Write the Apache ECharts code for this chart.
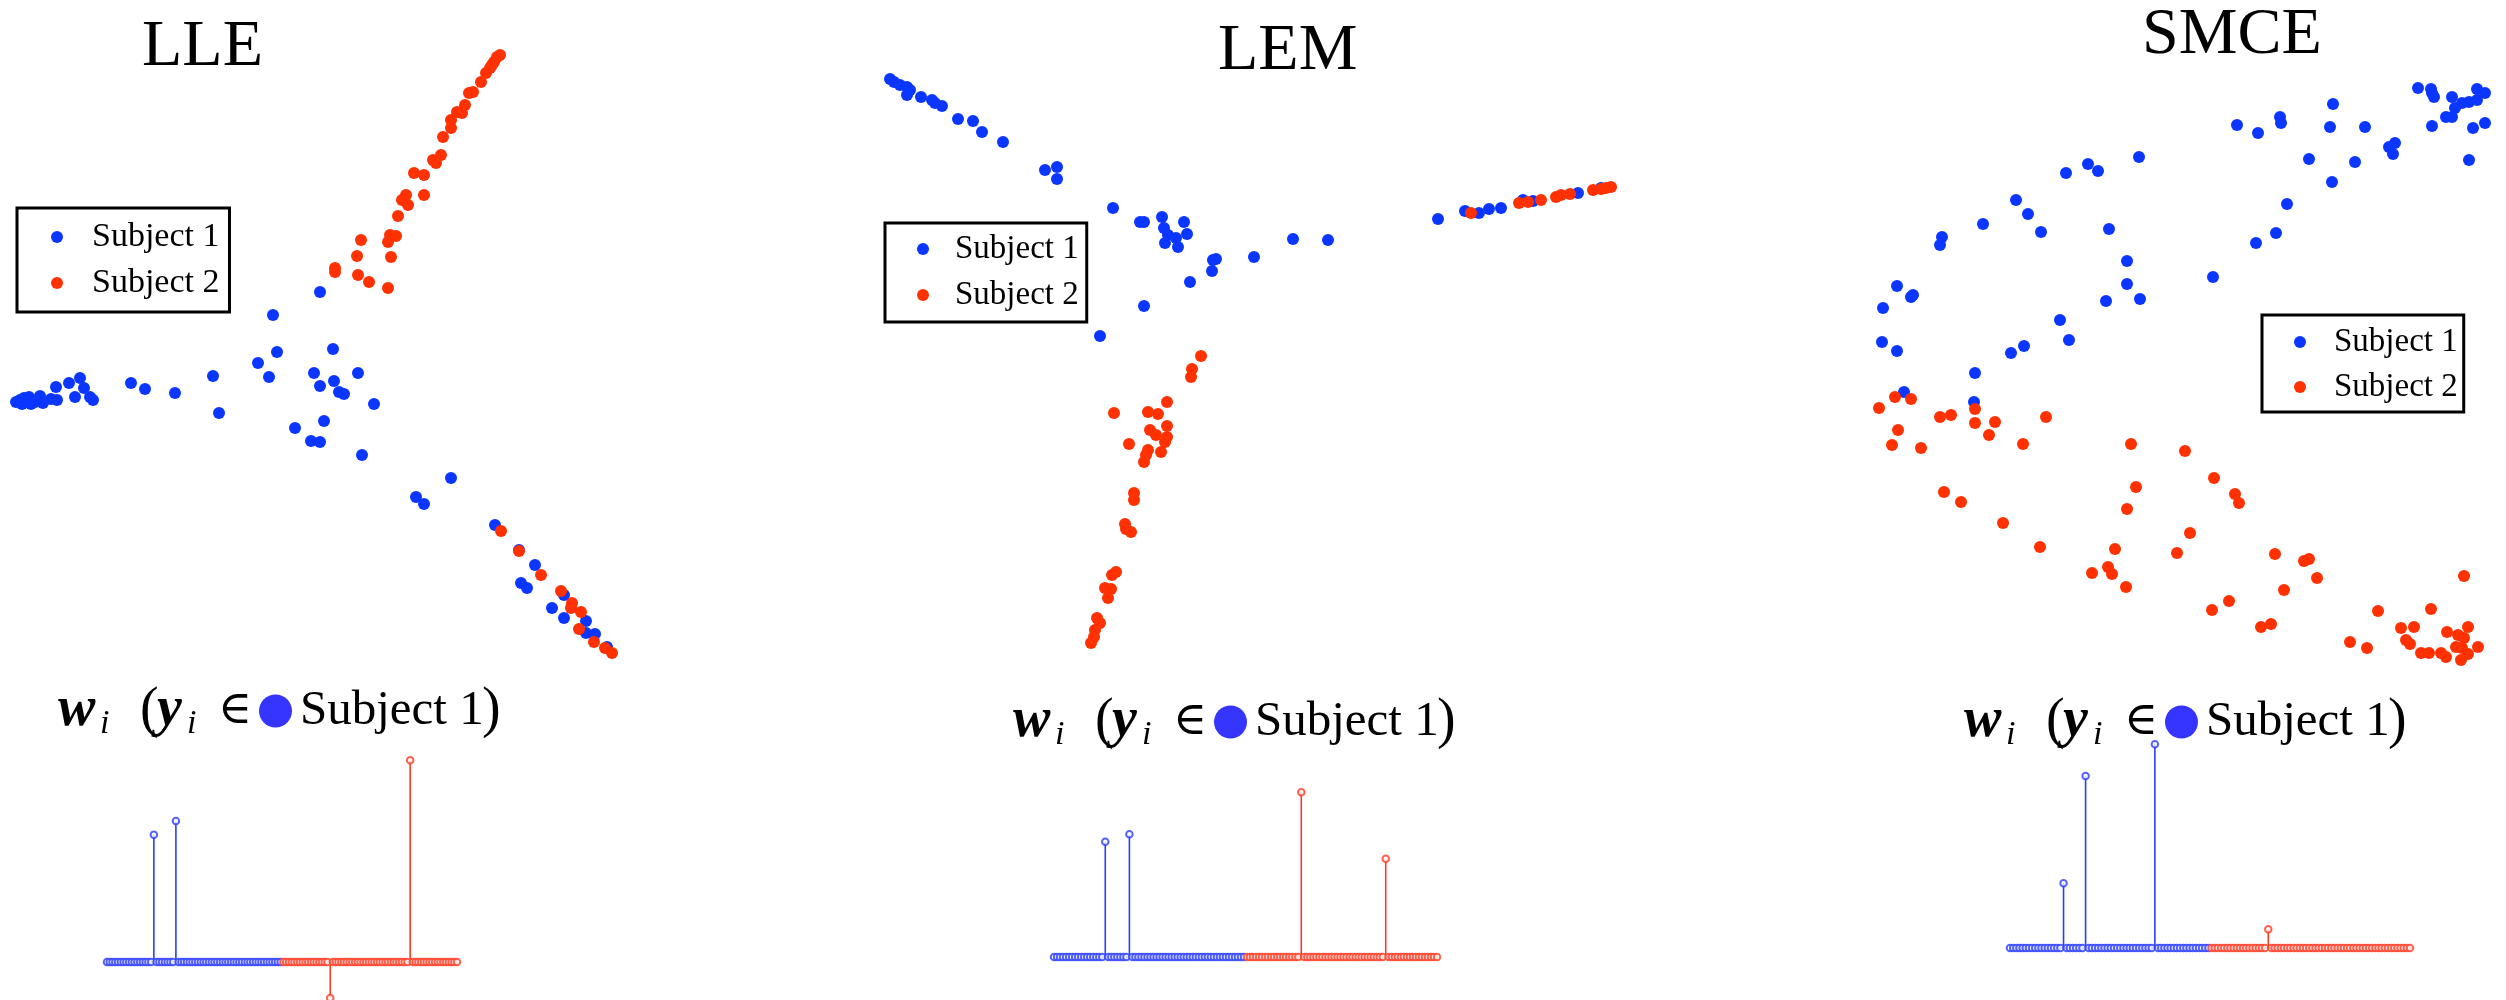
<!DOCTYPE html>
<html>
<head>
<meta charset="utf-8">
<script src="https://cdn.jsdelivr.net/npm/echarts@6/dist/echarts.min.js"></script>
<style>
  html, body { margin: 0; padding: 0; background: #fff; }
  #chart { width: 2506px; height: 1000px; }
</style>
</head>
<body>
<div id="chart"></div>
<script>
// ---- 2-D embeddings of the two subjects (x, y in embedding units, y grows downward) ----
const lleSubject1 = [
  [16,402],[20,400],[22,404],[24,398],[27,401],[29,397],[31,404],[35,402],[40,396],[43,403],[51,399],[57,400],
  [56,387],[69,383],[80,378],[75,397],[84,388],[90,397],[93,400],
  [131,383],[145,389],[175,393],[213,376],[219,413],[258,363],[277,352],[269,377],[273,315],[320,292],
  [333,349],[314,373],[334,381],[320,386],[339,392],[344,394],[358,373],[374,404],[324,421],[295,428],
  [311,441],[320,442],[362,455],
  [451,478],[416,497],[424,504],[495,525],[519,550],[535,565],[521,583],[527,588],[564,595],[552,608],
  [564,618],[586,621],[586,633],[595,634],[607,647]
];
const lleSubject2 = [
  [500,55],[497,57],[494,62],[492,65],[490,68],[486,73],[481,82],[473,92],[469,93],[465,105],[457,112],
  [462,113],[451,120],[451,128],[443,137],[441,155],[433,160],[436,163],[414,173],[424,175],[406,195],
  [402,200],[424,195],[408,205],[398,216],[390,235],[396,236],[388,242],[361,240],[357,256],[391,257],
  [335,268],[335,272],[358,275],[369,282],[388,288],
  [501,531],[519,551],[541,575],[561,591],[572,603],[571,608],[581,612],[579,629],[594,642],[605,648],[612,653]
];

const lemSubject1 = [
  [890,79],[894,82],[900,85],[907,87],[910,90],[907,95],[921,97],[932,100],[935,103],[942,106],[958,119],
  [973,121],[982,132],[1003,142],[1045,170],[1057,167],[1057,179],[1113,208],[1140,222],[1144,222],
  [1162,217],[1164,228],[1168,235],[1165,243],[1176,238],[1178,247],[1184,222],[1187,234],[1213,260],
  [1216,259],[1212,271],[1190,282],[1144,306],[1100,336],[1254,257],[1293,239],[1328,240],[1438,219],
  [1465,211],[1479,213],[1489,209],[1501,208],[1523,200],[1533,201],[1578,193],[1601,188]
];
const lemSubject2 = [
  [1471,213],[1519,203],[1528,202],[1541,200],[1556,197],[1561,195],[1570,194],[1593,190],[1601,189],
  [1606,188],[1611,187],
  [1201,356],[1192,369],[1191,377],[1167,402],[1114,413],[1148,412],[1158,414],[1167,426],[1150,430],
  [1156,435],[1167,437],[1165,442],[1129,444],[1148,450],[1146,455],[1161,452],[1144,462],[1134,493],
  [1134,500],[1125,524],[1126,529],[1131,532],[1116,572],[1112,575],[1105,588],[1111,589],[1108,598],
  [1097,618],[1100,623],[1095,630],[1094,637],[1091,643]
];

const smceSubject1 = [
  [2418,88],[2431,89],[2432,93],[2434,97],[2452,97],[2462,103],[2469,102],[2477,100],[2477,89],[2485,93],
  [2455,108],[2446,117],[2452,117],[2432,126],[2473,128],[2485,123],[2469,160],[2333,104],[2330,127],
  [2365,127],[2280,117],[2281,123],[2237,125],[2258,133],[2309,159],[2355,162],[2332,182],[2389,147],
  [2395,143],[2393,154],[2287,204],[2276,233],[2256,243],[2213,277],[2139,157],[2088,164],[2098,171],
  [2066,173],[2109,229],[2016,200],[2028,214],[2041,232],[1983,224],[1942,237],[1940,245],[1897,286],
  [1913,295],[1911,297],[1883,308],[1882,342],[1897,351],[2127,261],[2127,284],[2140,299],[2106,301],
  [2060,320],[2069,340],[2024,346],[2011,353],[1975,373],[1904,392],[1974,402]
];
const smceSubject2 = [
  [1895,397],[1911,399],[1879,408],[1940,417],[1951,415],[1975,409],[1975,423],[1995,422],[1989,435],
  [1898,430],[1892,445],[1921,448],[2023,444],[2046,417],[2131,444],[2185,451],[2214,478],[2235,494],
  [2239,503],[2136,487],[2127,509],[1944,492],[1961,502],[2003,523],[2040,547],[2190,533],[2177,553],
  [2115,549],[2108,567],[2112,574],[2092,573],[2126,587],[2275,554],[2304,561],[2309,559],[2317,578],
  [2284,590],[2229,601],[2212,610],[2261,627],[2271,624],[2378,611],[2431,609],[2464,576],[2350,642],
  [2367,648],[2401,628],[2414,627],[2406,640],[2410,644],[2421,653],[2429,653],[2441,653],[2446,657],
  [2447,632],[2458,635],[2468,627],[2464,638],[2456,647],[2462,648],[2478,647],[2468,654],[2461,660]
];

// ---- sparse representation weights w_i of one point of Subject 1 ----
const pointsPerSubject = 64;
const lleWeightIndex  = [18, 26, 82, 111];
const lleWeightValue  = [0.293, 0.325, -0.083, 0.465];
const lemWeightIndex  = [18, 26, 83, 111];
const lemWeightValue  = [0.230, 0.245, 0.329, 0.196];
const smceWeightIndex = [18, 25, 47, 83];
const smceWeightValue = [0.141, 0.374, 0.443, 0.041];

const methodNames = ['LLE', 'LEM', 'SMCE'];
const subjectNames = ['Subject 1', 'Subject 2'];

// ---- styling / layout ----
const SERIF = '"Liberation Serif", "Times New Roman", "DejaVu Serif", serif';
const BLUE = '#0b36ff', RED = '#ff3100';
const STEM_BLUE = '#2a3cff', STEM_RED = '#ff3a22';

const scatterLayout = [
  { left: 0,    width: 640, titleLeft: 142,  titleTop: 15,
    legend: { left: 17,   top: 208, padding: [11, 10, 11, 34], itemGap: 10, textPad: 24, fontSize: 34 } },
  { left: 860,  width: 780, titleLeft: 1218, titleTop: 19,
    legend: { left: 885,  top: 223, padding: [8, 8, 9, 32], itemGap: 10, textPad: 21, fontSize: 33 } },
  { left: 1850, width: 656, titleLeft: 2142, titleTop: 3,
    legend: { left: 2262, top: 315, padding: [9, 6, 7, 32], itemGap: 9, textPad: 23, fontSize: 33 } }
];
const SCATTER_HEIGHT = 680;

const stemLayout = [
  { left: 107,  width: 350, top: 740, bottom: 1000, baseline: 962, unit: 434, subLeft: 58,   subTop: 681 },
  { left: 1054, width: 383, top: 760, bottom: 1000, baseline: 957, unit: 501, subLeft: 1013, subTop: 692 },
  { left: 2010, width: 400, top: 720, bottom: 1000, baseline: 948, unit: 460, subLeft: 1964, subTop: 692 }
];

const embeddings = [
  [lleSubject1, lleSubject2],
  [lemSubject1, lemSubject2],
  [smceSubject1, smceSubject2]
];
const weights = [
  [lleWeightIndex, lleWeightValue],
  [lemWeightIndex, lemWeightValue],
  [smceWeightIndex, smceWeightValue]
];

function weightVector(idx, val) {
  const w = new Array(2 * pointsPerSubject).fill(0);
  idx.forEach((k, j) => { w[k - 1] = val[j]; });
  return w;
}

const plain = { fontFamily: SERIF, fontWeight: 'normal', fontStyle: 'normal', color: '#000' };
const subtitleRich = {
  w:   { ...plain, fontSize: 56, fontStyle: 'italic', fontWeight: 'bold', width: 42, lineHeight: 60 },
  y:   { ...plain, fontSize: 56, fontStyle: 'italic', fontWeight: 'bold', width: 30, lineHeight: 60 },
  i1:  { ...plain, fontSize: 34, fontStyle: 'italic', width: 40, lineHeight: 34, verticalAlign: 'bottom' },
  i2:  { ...plain, fontSize: 34, fontStyle: 'italic', width: 31, lineHeight: 34, verticalAlign: 'bottom' },
  op:  { ...plain, fontSize: 56, width: 17, lineHeight: 60 },
  el:  { ...plain, fontSize: 46, width: 41, lineHeight: 60 },
  dot: { width: 33, height: 33, borderRadius: 17, backgroundColor: '#3535ff', verticalAlign: 'middle' },
  sp:  { width: 8 },
  txt: { ...plain, fontSize: 49, width: 182, lineHeight: 60 },
  cp:  { ...plain, fontSize: 56, lineHeight: 60 }
};
const subtitleText = '{w|w}{i1|i}{op|(}{y|y}{i2|i}{el|∈}{dot|}{sp|}{txt|Subject 1}{cp|)}';

const grid = [], xAxis = [], yAxis = [], series = [], title = [], legend = [];

// scatter panels: one embedding per method
scatterLayout.forEach((L, p) => {
  grid.push({ left: L.left, top: 0, width: L.width, height: SCATTER_HEIGHT });
  xAxis.push({ type: 'value', gridIndex: p, min: L.left, max: L.left + L.width, show: false });
  yAxis.push({ type: 'value', gridIndex: p, min: 0, max: SCATTER_HEIGHT, inverse: true, show: false });
  title.push({
    text: methodNames[p], left: L.titleLeft, top: L.titleTop, padding: 0,
    textStyle: { fontFamily: SERIF, fontSize: 66, fontWeight: 'normal', lineHeight: 66, color: '#000' }
  });
  legend.push({
    data: subjectNames, orient: 'vertical',
    left: L.legend.left, top: L.legend.top, padding: L.legend.padding, itemGap: L.legend.itemGap,
    itemWidth: 12, itemHeight: 12, icon: 'circle', selectedMode: false,
    borderColor: '#000', borderWidth: 3, backgroundColor: '#fff',
    textStyle: { fontFamily: SERIF, fontSize: L.legend.fontSize, lineHeight: 36, color: '#000',
                 padding: [0, 0, 0, L.legend.textPad] }
  });
  embeddings[p].forEach((pts, s) => {
    series.push({
      type: 'scatter', name: subjectNames[s], xAxisIndex: p, yAxisIndex: p,
      data: pts, symbol: 'circle', symbolSize: 12, silent: true, clip: false,
      itemStyle: { color: s === 0 ? BLUE : RED, opacity: 1 },
      z: 2 + s
    });
  });
});

// stem panels: weights of one Subject 1 point over all data points
stemLayout.forEach((L, p) => {
  const g = 3 + p;
  grid.push({ left: L.left, top: L.top, width: L.width, height: L.bottom - L.top });
  xAxis.push({
    type: 'value', gridIndex: g, min: 1, max: 2 * pointsPerSubject,
    axisLine: { show: true, onZero: true, lineStyle: { color: '#000', width: 1.5 } },
    axisTick: { show: false }, axisLabel: { show: false }, splitLine: { show: false }
  });
  yAxis.push({
    type: 'value', gridIndex: g,
    min: -(L.bottom - L.baseline) / L.unit, max: (L.baseline - L.top) / L.unit,
    show: false
  });
  title.push({
    text: subtitleText, left: L.subLeft, top: L.subTop, padding: 0,
    textStyle: { rich: subtitleRich, color: '#000', fontWeight: 'normal', fontFamily: SERIF }
  });
  const w = weightVector(weights[p][0], weights[p][1]);
  [0, 1].forEach(s => {
    const ks = [];
    for (let k = s * pointsPerSubject + 1; k <= (s + 1) * pointsPerSubject; k++) ks.push(k);
    const stemColor = s === 0 ? STEM_BLUE : STEM_RED;
    series.push({
      type: 'custom', name: 'stem ' + subjectNames[s], xAxisIndex: g, yAxisIndex: g, silent: true, z: 3,
      data: ks.filter(k => w[k - 1] !== 0).map(k => [k, w[k - 1]]),
      renderItem: (params, api) => {
        const a = api.coord([api.value(0), 0]);
        const b = api.coord([api.value(0), api.value(1)]);
        return { type: 'line', shape: { x1: a[0], y1: a[1], x2: b[0], y2: b[1] },
                 style: { stroke: stemColor, lineWidth: 1.6 } };
      }
    });
    series.push({
      type: 'scatter', name: 'marker ' + subjectNames[s], xAxisIndex: g, yAxisIndex: g, silent: true, clip: false,
      data: ks.map(k => [k, w[k - 1]]),
      symbol: 'emptyCircle', symbolSize: 6.5, z: 4,
      itemStyle: { color: stemColor, borderColor: stemColor, borderWidth: 1.6 }
    });
  });
});

const chart = echarts.init(document.getElementById('chart'), null, { renderer: 'canvas' });
chart.setOption({
  backgroundColor: '#fff',
  animation: false,
  title, legend, grid, xAxis, yAxis, series
});
</script>
</body>
</html>
